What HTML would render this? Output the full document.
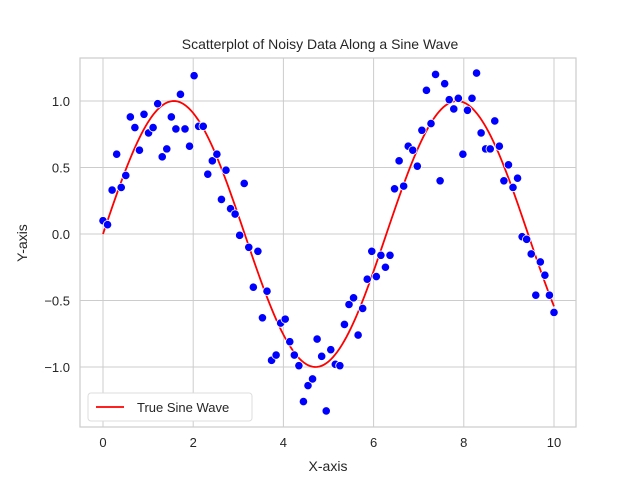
<!DOCTYPE html>
<html><head><meta charset="utf-8"><style>
body{margin:0;background:#fff;}
svg text{font-family:"Liberation Sans","DejaVu Sans",sans-serif;fill:#262626;}
</style></head><body>
<svg id="chart" width="640" height="480" xmlns="http://www.w3.org/2000/svg">
<rect width="640" height="480" fill="#fff"/>
<g id="grid"></g>
<g id="curve"></g>
<g id="points"></g>
<rect x="80" y="58" width="496" height="369" fill="none" stroke="#cccccc" stroke-width="1.2"/>
<g id="ticks"></g>
<text x="320" y="49" text-anchor="middle" font-size="14">Scatterplot of Noisy Data Along a Sine Wave</text>
<text x="328" y="471" text-anchor="middle" font-size="14">X-axis</text>
<text x="27" y="243" text-anchor="middle" font-size="14" transform="rotate(-90 27 243)">Y-axis</text>
<g>
<rect x="88" y="393" width="164" height="28" rx="3" fill="#fff" stroke="#dddddd"/>
<line x1="96" y1="407" x2="124" y2="407" stroke="red" stroke-width="1.8"/>
<text x="137" y="412" font-size="13">True Sine Wave</text>
</g>
</svg>
<script>
const yValues=[0.10,0.07,0.33,0.60,0.35,0.44,0.88,0.80,0.63,0.90,0.76,0.80,0.98,0.58,0.64,0.88,0.79,1.05,0.79,0.66,1.19,0.81,0.81,0.45,0.55,0.60,0.26,0.48,0.19,0.15,-0.01,0.38,-0.10,-0.40,-0.13,-0.63,-0.43,-0.95,-0.91,-0.67,-0.64,-0.81,-0.91,-0.99,-1.26,-1.14,-1.09,-0.79,-0.92,-1.33,-0.87,-0.98,-0.99,-0.68,-0.53,-0.48,-0.76,-0.56,-0.34,-0.13,-0.32,-0.16,-0.25,-0.16,0.34,0.55,0.36,0.66,0.63,0.51,0.78,1.08,0.83,1.20,0.40,1.13,1.01,0.94,1.02,0.60,0.93,1.02,1.21,0.76,0.64,0.64,0.85,0.66,0.40,0.52,0.35,0.42,-0.02,-0.04,-0.15,-0.46,-0.21,-0.31,-0.46,-0.59];
const xTicks=[0,2,4,6,8,10];
const yTicks=[-1.0,-0.5,0.0,0.5,1.0];
const yTickLabels=["\u22121.0","\u22120.5","0.0","0.5","1.0"];
const NS="http://www.w3.org/2000/svg";
const sx=v=>103+v*45.1;
const sy=v=>234-v*133;
const mk=(t,a,p)=>{const e=document.createElementNS(NS,t);for(const k in a)e.setAttribute(k,a[k]);p.appendChild(e);return e;};
const grid=document.getElementById('grid'),ticks=document.getElementById('ticks');
xTicks.forEach(v=>{
 const l=mk('line',{x1:sx(v),x2:sx(v),y1:58,y2:427,stroke:'#cccccc','stroke-width':1},grid);
 
 
 const t=mk('text',{x:sx(v),y:447,'text-anchor':'middle','font-size':13},ticks);t.textContent=v;
 
 
});
yTicks.forEach((v,i)=>{
 const l=mk('line',{x1:80,x2:576,y1:sy(v),y2:sy(v),stroke:'#cccccc','stroke-width':1},grid);
 
 
 const t=mk('text',{x:70,y:sy(v)+5,'text-anchor':'end','font-size':13},ticks);t.textContent=yTickLabels[i];
 
 
});
let d='';for(let i=0;i<=200;i++){const x=i*10/200;d+=(i?'L':'M')+sx(x).toFixed(2)+','+sy(Math.sin(x)).toFixed(2);}
const c=mk('path',{d:d,fill:'none',stroke:'red','stroke-width':1.8},document.getElementById('curve'));


const pg=document.getElementById('points');
yValues.forEach((y,i)=>{
 const x=i*10/(yValues.length-1);
 const p=mk('circle',{cx:sx(x),cy:sy(y),r:4.2,fill:'#0000ff',stroke:'#fff','stroke-width':0.8},pg);
 
 
});
</script>
</body></html>
